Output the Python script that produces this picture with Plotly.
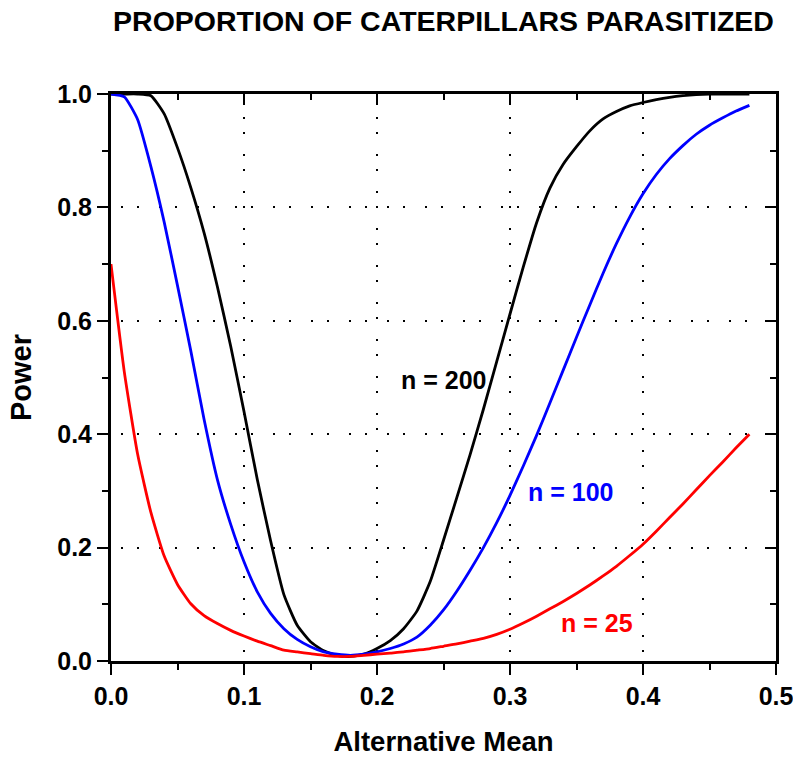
import plotly.graph_objects as go

alt_mean = [0.00, 0.01, 0.02, 0.03, 0.04, 0.05, 0.06, 0.07, 0.08, 0.09,
            0.10, 0.11, 0.12, 0.13, 0.14, 0.15, 0.16, 0.17, 0.18, 0.19,
            0.20, 0.21, 0.22, 0.23, 0.24, 0.25, 0.26, 0.27, 0.28, 0.29,
            0.30, 0.31, 0.32, 0.33, 0.34, 0.35, 0.36, 0.37, 0.38, 0.39,
            0.40, 0.41, 0.42, 0.43, 0.44, 0.45, 0.46, 0.47, 0.48]

power_n200 = [1.000, 1.000, 1.000, 0.997, 0.965, 0.905, 0.835, 0.755, 0.660, 0.555,
              0.440, 0.320, 0.212, 0.117, 0.063, 0.034, 0.018, 0.010, 0.008, 0.012,
              0.022, 0.036, 0.057, 0.088, 0.140, 0.213, 0.288, 0.364, 0.444, 0.528,
              0.612, 0.695, 0.773, 0.834, 0.876, 0.907, 0.935, 0.956, 0.969, 0.979,
              0.985, 0.990, 0.994, 0.997, 0.999, 1.000, 1.000, 1.000, 1.000]

power_n100 = [1.000, 0.995, 0.955, 0.872, 0.774, 0.662, 0.547, 0.426, 0.320, 0.241,
              0.175, 0.122, 0.084, 0.057, 0.038, 0.025, 0.016, 0.012, 0.010, 0.012,
              0.016, 0.022, 0.030, 0.042, 0.063, 0.090, 0.123, 0.160, 0.200, 0.244,
              0.292, 0.344, 0.398, 0.455, 0.513, 0.571, 0.628, 0.684, 0.736, 0.783,
              0.824, 0.858, 0.886, 0.909, 0.929, 0.945, 0.958, 0.970, 0.980]

power_n25 = [0.700, 0.510, 0.365, 0.262, 0.185, 0.135, 0.101, 0.080, 0.066, 0.054,
             0.044, 0.035, 0.027, 0.019, 0.016, 0.013, 0.010, 0.008, 0.008, 0.010,
             0.012, 0.014, 0.016, 0.019, 0.022, 0.026, 0.030, 0.035, 0.040, 0.047,
             0.056, 0.067, 0.079, 0.092, 0.105, 0.119, 0.134, 0.150, 0.167, 0.186,
             0.206, 0.229, 0.253, 0.277, 0.302, 0.327, 0.351, 0.376, 0.400]

series_names = ["n = 200", "n = 100", "n = 25"]
series_colors = ["#000000", "#0000ff", "#ff0000"]
label_x = [0.2498, 0.3457, 0.3652]
label_y = [0.4956, 0.2986, 0.067]

FONT = "Liberation Sans, Arial, sans-serif"

fig = go.Figure()
for name, vals, col in zip(series_names, [power_n200, power_n100, power_n25], series_colors):
    fig.add_trace(go.Scatter(x=alt_mean, y=vals, mode="lines", name=name,
                             line=dict(color=col, width=2.8, shape="spline", smoothing=0.5),
                             showlegend=False))

# empty trace for the mirrored (inside-tick) axes
fig.add_trace(go.Scatter(x=[], y=[], xaxis="x2", yaxis="y2", showlegend=False))

for name, col, lx, ly in zip(series_names, series_colors, label_x, label_y):
    fig.add_annotation(x=lx, y=ly, xref="x", yref="y", text=f"<b>{name}</b>",
                       showarrow=False, font=dict(family=FONT, size=25, color=col),
                       xanchor="center", yanchor="middle")

common = dict(showline=True, linecolor="black", linewidth=3, zeroline=False,
              tickcolor="black", tickwidth=1.5, ticklen=11, automargin=False)

fig.update_layout(
    width=793, height=757,
    margin=dict(l=111, r=17, t=94, b=96, autoexpand=False),
    paper_bgcolor="white", plot_bgcolor="white",
    title=dict(text="<b>PROPORTION OF CATERPILLARS PARASITIZED</b>",
               x=0.5, xref="paper", xanchor="center",
               y=1 - 21 / 757, yref="container", yanchor="middle",
               font=dict(family=FONT, size=28.5, color="black")),
    xaxis=dict(range=[0, 0.5], dtick=0.1, tick0=0, tickformat=".1f",
               ticks="outside", showgrid=True, gridcolor="black", gridwidth=2,
               griddash="0px,1px,2px,20px,2px,12px", ticklabeloverflow="allow",
               minor=dict(dtick=0.05, ticks="outside", ticklen=6, tickwidth=1.5,
                          tickcolor="black", showgrid=False),
               tickfont=dict(family=FONT, size=25, color="black", weight="bold"),
               title=dict(text="<b>Alternative Mean</b>", standoff=26,
                          font=dict(family=FONT, size=27.5, color="black")),
               **common),
    yaxis=dict(range=[0, 1], dtick=0.2, tick0=0, tickformat=".1f",
               ticks="outside", showgrid=True, gridcolor="black", gridwidth=2,
               griddash="0px,10px,2px,14px,2px,10px", ticklabeloverflow="allow",
               minor=dict(dtick=0.1, ticks="outside", ticklen=6, tickwidth=1.5,
                          tickcolor="black", showgrid=False),
               tickfont=dict(family=FONT, size=25, color="black", weight="bold"),
               title=dict(text="<b>Power</b>", standoff=18,
                          font=dict(family=FONT, size=29, color="black")),
               **common),
    xaxis2=dict(range=[0, 0.5], overlaying="x", side="top", anchor="y2",
                dtick=0.1, tick0=0, ticks="inside", showticklabels=False,
                showgrid=False,
                minor=dict(dtick=0.05, ticks="inside", ticklen=6, tickwidth=1.5,
                           tickcolor="black"),
                **common),
    yaxis2=dict(range=[0, 1], overlaying="y", side="right", anchor="x2",
                dtick=0.2, tick0=0, ticks="inside", showticklabels=False,
                showgrid=False,
                minor=dict(dtick=0.1, ticks="inside", ticklen=6, tickwidth=1.5,
                           tickcolor="black"),
                **common),
)

fig.write_html("out.html")
